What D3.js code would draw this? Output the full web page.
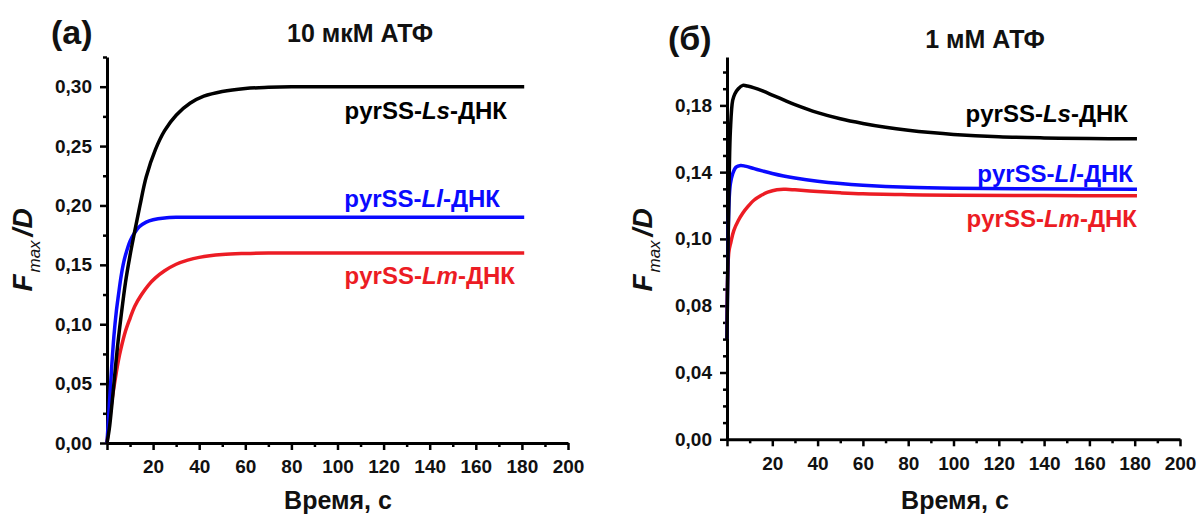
<!DOCTYPE html>
<head>
  <meta charset="utf-8">
  <title>Fmax/D vs time</title>
  <style>
    body { margin: 0; background: #fff; }
    svg { display: block; font-family: "Liberation Sans", Arial, sans-serif; }
    .axis .domain { stroke: #000; stroke-width: 3; }
    .axis .tick line { stroke: #000; stroke-width: 2.5; }
    .axis text { font-size: 19px; font-weight: bold; fill: #111; }
  </style>
</head>
<body>
  <svg width="1204" height="517"></svg>

  <script src="https://d3js.org/d3.v7.min.js"></script>
  <script>

    // ---- data ----
    // (a) 10 uM ATP
    var tA_Ls = [0, 1, 2, 3, 4.5, 6, 8, 10, 12, 14.3, 17, 21, 25, 30, 36, 42, 50, 60, 70, 80, 100, 140, 181];
    var fA_Ls = [0, 0.012, 0.03, 0.05, 0.08, 0.105, 0.135, 0.158, 0.178, 0.20, 0.224, 0.247, 0.263, 0.276, 0.286, 0.292, 0.296, 0.2985, 0.2995, 0.3, 0.3, 0.3, 0.3];
    var tA_Ll = [0, 1, 2, 3, 4, 5, 6, 7, 8, 10, 12, 14, 17, 20, 25, 30, 40, 60, 100, 181];
    var fA_Ll = [0, 0.032, 0.063, 0.09, 0.11, 0.125, 0.139, 0.15, 0.158, 0.17, 0.177, 0.182, 0.186, 0.188, 0.1895, 0.19, 0.19, 0.19, 0.19, 0.19];
    var tA_Lm = [0, 1, 2, 3, 4, 5, 6, 8, 10, 12, 15, 18, 21, 25, 30, 35, 40, 50, 60, 70, 100, 181];
    var fA_Lm = [0, 0.018, 0.034, 0.047, 0.059, 0.07, 0.079, 0.094, 0.105, 0.115, 0.125, 0.133, 0.139, 0.145, 0.1505, 0.1540, 0.1563, 0.1587, 0.1596, 0.16, 0.16, 0.16];

    // (b) 1 mM ATP
    var tB_Ls = [0, 0.5, 1, 1.5, 2.5, 3.5, 5, 7, 9, 12, 16, 20, 25, 30, 40, 50, 60, 70, 80, 90, 100, 120, 140, 160, 181];
    var fB_Ls = [0.06, 0.10, 0.14, 0.165, 0.183, 0.187, 0.19, 0.192, 0.1916, 0.1905, 0.1885, 0.1862, 0.1833, 0.1805, 0.1757, 0.172, 0.1692, 0.1669, 0.1651, 0.1637, 0.1626, 0.1612, 0.1605, 0.1601, 0.16];
    var tB_Ll = [0, 0.5, 1, 1.5, 2.5, 4, 6, 8, 12, 16, 20, 25, 30, 40, 50, 60, 80, 100, 130, 181];
    var fB_Ll = [0.06, 0.10, 0.125, 0.133, 0.139, 0.143, 0.144, 0.1436, 0.1421, 0.1406, 0.1392, 0.1377, 0.1365, 0.1346, 0.1332, 0.1322, 0.1309, 0.1303, 0.130, 0.1298];
    var tB_Lm = [0, 0.8, 1.7, 3, 5, 7, 9, 12, 15, 18, 22, 26, 30, 40, 50, 60, 80, 100, 140, 181];
    var fB_Lm = [0.06, 0.096, 0.099, 0.105, 0.111, 0.1155, 0.119, 0.1233, 0.126, 0.128, 0.1295, 0.1297, 0.1294, 0.1284, 0.1276, 0.127, 0.1265, 0.1262, 0.126, 0.1258];

    // tick values / labels
    var xTicks = [0, 20, 40, 60, 80, 100, 120, 140, 160, 180, 200];
    var xLabels = ["", "20", "40", "60", "80", "100", "120", "140", "160", "180", "200"];
    var yTicksA = [0, 0.05, 0.10, 0.15, 0.20, 0.25, 0.30];
    var yLabelsA = ["0,00", "0,05", "0,10", "0,15", "0,20", "0,25", "0,30"];
    var yTicksB = [0, 0.04, 0.08, 0.10, 0.14, 0.18];
    var yLabelsB = ["0,00", "0,04", "0,08", "0,10", "0,14", "0,18"];

    var colors = {Ls: "#000000", Ll: "#0a0aff", Lm: "#ec1c24"};

    var svg = d3.select("svg");

    function zip(t, f) { return t.map(function(d, i) { return [d, f[i]]; }); }

    function drawPanel(p) {
      var g = svg.append("g");
      var x = p.x, y = p.y;

      // major x axis
      g.append("g").attr("class", "axis")
          .attr("transform", "translate(0," + y.range()[0] + ")")
          .call(d3.axisBottom(x).tickValues(xTicks)
              .tickFormat(function(d, i) { return xLabels[i]; })
              .tickSize(7).tickPadding(10).tickSizeOuter(0));
      // minor x ticks
      g.append("g").attr("class", "axis")
          .attr("transform", "translate(0," + y.range()[0] + ")")
          .call(d3.axisBottom(x).tickValues(d3.range(10, 200, 20)).tickFormat("").tickSize(4).tickSizeOuter(0))
          .select(".domain").remove();

      // major y axis
      g.append("g").attr("class", "axis")
          .attr("transform", "translate(" + x.range()[0] + ",0)")
          .call(d3.axisLeft(y).tickValues(p.yTicks)
              .tickFormat(function(d, i) { return p.yLabels[i]; })
              .tickSize(7).tickPadding(8).tickSizeOuter(0));
      g.append("g").attr("class", "axis")
          .attr("transform", "translate(" + x.range()[0] + ",0)")
          .call(d3.axisLeft(y).tickValues(p.yMinor).tickFormat("").tickSize(4).tickSizeOuter(0))
          .select(".domain").remove();

      // curves
      var line = d3.line()
          .x(function(d) { return x(d[0]); })
          .y(function(d) { return y(d[1]); })
          .curve(d3.curveCatmullRom.alpha(0.5));

      p.series.forEach(function(s) {
        g.append("path")
            .datum(s.data)
            .attr("fill", "none")
            .attr("stroke", colors[s.key])
            .attr("stroke-width", 3.5)
            .attr("stroke-linejoin", "round")
            .attr("d", line);
      });

      // series labels
      p.series.forEach(function(s) {
        var t = g.append("text")
            .attr("x", s.lx).attr("y", s.ly)
            .attr("text-anchor", "end")
            .attr("font-size", 24).attr("font-weight", "bold")
            .attr("fill", colors[s.key]);
        t.append("tspan").text("pyrSS-");
        t.append("tspan").attr("font-style", "italic").text(s.key);
        t.append("tspan").text("-ДНК");
      });

      // panel letter & title
      g.append("text").attr("x", p.letterX).attr("y", p.letterY)
          .attr("font-size", 34).attr("font-weight", "bold").attr("fill", "#111")
          .text(p.letter);
      g.append("text").attr("x", p.titleX).attr("y", p.titleY)
          .attr("text-anchor", "middle")
          .attr("font-size", 25).attr("font-weight", "bold").attr("fill", "#111")
          .text(p.title);

      // axis titles
      g.append("text")
          .attr("x", p.xTitleX).attr("y", 509)
          .attr("text-anchor", "middle")
          .attr("font-size", 25).attr("font-weight", "bold").attr("fill", "#111")
          .text("Время, с");

      var yl = g.append("text")
          .attr("transform", "translate(" + (x.range()[0] - 75) + ",250) rotate(-90)")
          .attr("text-anchor", "middle")
          .attr("font-weight", "bold").attr("font-style", "italic").attr("fill", "#111");
      yl.append("tspan").attr("font-size", 28).text("F");
      yl.append("tspan").attr("font-size", 17).attr("font-weight", "normal").attr("dx", 2).attr("dy", 8).text("max");
      yl.append("tspan").attr("font-size", 28).attr("dx", 4).attr("dy", -8).text("/D");
    }

    // (a)
    drawPanel({
      x: d3.scaleLinear().domain([0, 200]).range([107, 568]),
      y: d3.scaleLinear().domain([0, 0.325]).range([443, 57]),
      yTicks: yTicksA, yLabels: yLabelsA,
      yMinor: d3.range(0.025, 0.33, 0.05),
      letter: "(a)", letterX: 51, letterY: 44,
      title: "10 мкМ АТФ", titleX: 360, titleY: 42,
      xTitleX: 338,
      series: [
        {key: "Lm", data: zip(tA_Lm, fA_Lm), lx: 515, ly: 284},
        {key: "Ll", data: zip(tA_Ll, fA_Ll), lx: 500, ly: 207},
        {key: "Ls", data: zip(tA_Ls, fA_Ls), lx: 507, ly: 119}
      ]
    });

    // (b) - axis is labelled unevenly (0,08 -> 0,10 spans a full step)
    drawPanel({
      x: d3.scaleLinear().domain([0, 200]).range([727, 1180]),
      y: d3.scaleLinear().domain([0, 0.08, 0.10, 0.209]).range([439.3, 305.7, 238.9, 57]),
      yTicks: yTicksB, yLabels: yLabelsB,
      yMinor: [0.01, 0.02, 0.03, 0.05, 0.06, 0.07, 0.085, 0.09, 0.095, 0.11, 0.12, 0.13, 0.15, 0.16, 0.17, 0.19, 0.20],
      letter: "(б)", letterX: 668, letterY: 50,
      title: "1 мМ АТФ", titleX: 985, titleY: 48,
      xTitleX: 955,
      series: [
        {key: "Lm", data: zip(tB_Lm, fB_Lm), lx: 1137, ly: 227},
        {key: "Ll", data: zip(tB_Ll, fB_Ll), lx: 1133, ly: 182},
        {key: "Ls", data: zip(tB_Ls, fB_Ls), lx: 1128, ly: 122}
      ]
    });
  </script>
</body>
